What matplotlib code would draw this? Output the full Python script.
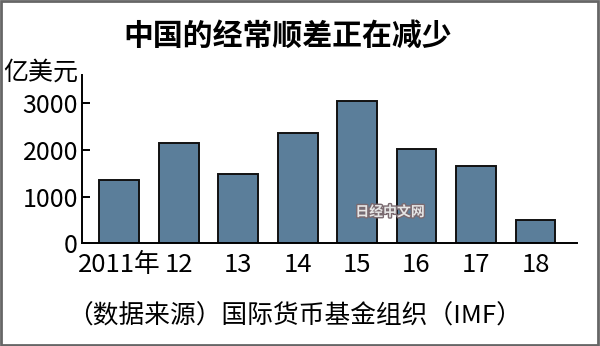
import matplotlib.pyplot as plt
import matplotlib.patheffects as pe
from matplotlib.patches import Rectangle

# 中国经常顺差 (亿美元), 数据来自IMF
years = ['2011年', '12', '13', '14', '15', '16', '17', '18']
surplus = [1361, 2154, 1482, 2360, 3042, 2022, 1649, 491]
yticks = [0, 1000, 2000, 3000]

cjk = ['Noto Sans CJK SC', 'DejaVu Sans']
plt.rcParams['font.family'] = cjk

fig = plt.figure(figsize=(6, 3.46), dpi=100)
ax = fig.add_axes([0.137, 0.297, 0.824, 0.486])

x = range(len(years))
ax.bar(x, surplus, width=0.67, color='#5b7e9a', edgecolor='#111111', linewidth=1.4)

ax.set_xlim(-0.62, 7.69)
ax.set_ylim(0, 3600)
ax.set_yticks(yticks)
ax.set_yticklabels([str(v) for v in yticks], fontsize=18)
ax.set_xticks(list(x))
ax.set_xticklabels(years, fontsize=18.5)

for s in ['top', 'right']:
    ax.spines[s].set_visible(False)
ax.spines['left'].set_linewidth(1.4)
ax.spines['bottom'].set_linewidth(1.4)
ax.tick_params(axis='y', direction='in', length=6, width=1.4, pad=3)
ax.tick_params(axis='x', length=0, pad=6)

fig.text(0.48, 0.895, '中国的经常顺差正在减少', ha='center', va='center',
         fontsize=21.5, fontweight='bold')
fig.text(0.006, 0.79, '亿美元', ha='left', va='center', fontsize=18)
fig.text(0.112, 0.085, '（数据来源）国际货币基金组织（IMF）', ha='left', va='center',
         fontsize=18.5)

# 水印
fig.text(0.65, 0.387, '日经中文网', ha='center', va='center', fontsize=10,
         fontweight='bold', color='#e6e6e6',
         path_effects=[pe.withStroke(linewidth=2, foreground='#7a6a70')])

fig.patches.append(Rectangle((0.002, 0.003), 0.995, 0.993, transform=fig.transFigure,
                             fill=False, edgecolor='#666666', linewidth=2))

fig.savefig('out.png', dpi=100)
